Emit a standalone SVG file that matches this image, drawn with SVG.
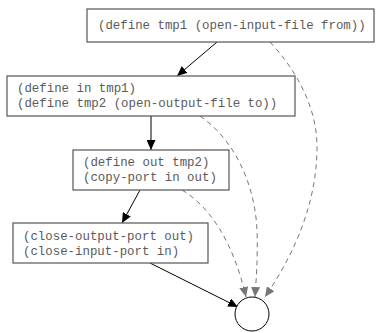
<svg xmlns="http://www.w3.org/2000/svg" width="382" height="333" viewBox="0 0 382 333">
<style>
.box{fill:#fff;stroke:#555;stroke-width:1.2}
.t{font-family:"Liberation Mono","Courier New",monospace;font-size:12.4px;fill:#5a5a5a}
.e{fill:none;stroke:#000;stroke-width:1}
.d{fill:none;stroke:#777;stroke-width:1;stroke-dasharray:5,4}
</style>
<defs>
<marker id="ab" markerUnits="userSpaceOnUse" markerWidth="11" markerHeight="9" refX="10" refY="4.5" orient="auto">
<path d="M0,0 L10,4.5 L0,9 z" fill="#000"/>
</marker>
<marker id="ag" markerUnits="userSpaceOnUse" markerWidth="11" markerHeight="9" refX="10" refY="4.5" orient="auto">
<path d="M0,0 L10,4.5 L0,9 z" fill="#777"/>
</marker>
</defs>
<rect width="382" height="333" fill="#fff"/>
<g id="edges">
<path class="e" d="M217,42 L177,76" marker-end="url(#ab)"/>
<path class="e" d="M151,116 L151,150" marker-end="url(#ab)"/>
<path class="e" d="M140,190 L122,223" marker-end="url(#ab)"/>
<path class="e" d="M150,263 L238,307" marker-end="url(#ab)"/>
<path class="d" d="M270,42 C298,72 318,110 317,150 C316,210 290,260 265,297" marker-end="url(#ag)"/>
<path class="d" d="M200,116 C235,140 255,185 257,230 C258,260 256,280 255,297" marker-end="url(#ag)"/>
<path class="d" d="M182,190 C215,210 235,250 246,297" marker-end="url(#ag)"/>
</g>
<g id="n1">
<rect class="box" x="87" y="9" width="287" height="33"/>
<text class="t" x="98" y="29">(define tmp1 (open-input-file from))</text>
</g>
<g id="n2">
<rect class="box" x="7" y="76" width="288" height="40"/>
<text class="t" x="17" y="92">(define in tmp1)</text>
<text class="t" x="17" y="107">(define tmp2 (open-output-file to))</text>
</g>
<g id="n3">
<rect class="box" x="73" y="150" width="156" height="40"/>
<text class="t" x="83" y="166">(define out tmp2)</text>
<text class="t" x="83" y="181">(copy-port in out)</text>
</g>
<g id="n4">
<rect class="box" x="13" y="223" width="195" height="40"/>
<text class="t" x="23" y="240">(close-output-port out)</text>
<text class="t" x="23" y="255">(close-input-port in)</text>
</g>
<g id="end">
<circle cx="252" cy="314" r="17" fill="#fff" stroke="#000" stroke-width="1"/>
</g>
</svg>
